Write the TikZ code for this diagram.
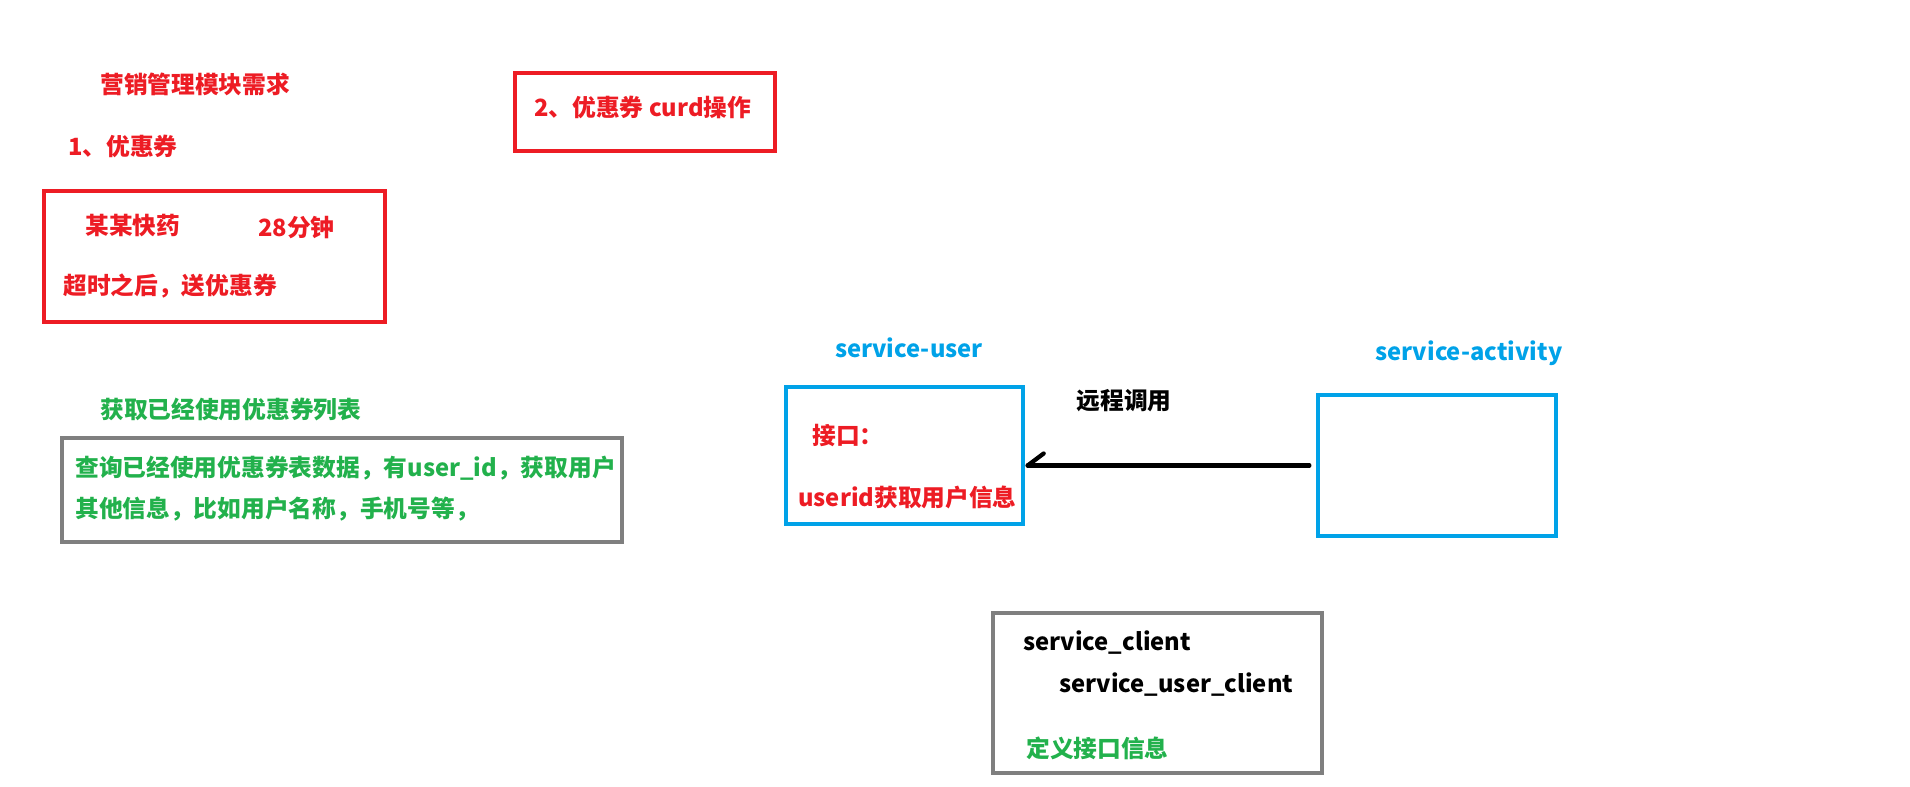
\documentclass[tikz,border=0pt]{standalone}
\usepackage{fontspec}
\setmainfont{Noto Sans CJK SC}
\definecolor{pred}{HTML}{ED1C24}
\definecolor{pgreen}{HTML}{22B14C}
\definecolor{pblue}{HTML}{00A2E8}
\definecolor{pgray}{HTML}{7F7F7F}
\tikzset{
  txt/.style={inner sep=0pt, font=\fontsize{17.8}{20}\selectfont\bfseries},
  ltxt/.style={txt, anchor=west},
  box/.style={line width=3pt, inner sep=0pt},
  redbox/.style={box, draw=pred},
  graybox/.style={box, draw=pgray},
  bluebox/.style={box, draw=pblue},
  callline/.style={line width=3.2pt, line cap=round}
}
\begin{document}
\begin{tikzpicture}[x=0.75pt, y=-0.75pt]
\useasboundingbox (0,0) rectangle (1910,787);
% red section
\node[ltxt, text=pred] (title) at (100,84) {营销管理模块需求};
\node[ltxt, text=pred] (one) at (68,146) {1、优惠券};
\node[redbox, minimum width=341*0.75pt, minimum height=131*0.75pt] (rb1) at (214.5,256.5) {};
\node[ltxt, text=pred] (kuai) at (85,226) {某某快药};
\node[ltxt, text=pred] (min) at (258,228) {28分钟};
\node[ltxt, text=pred] (over) at (63,286) {超时之后，送优惠券};
\node[redbox, minimum width=260*0.75pt, minimum height=78*0.75pt] (rb2) at (645,112) {};
\node[ltxt, text=pred] (two) at (534,107) {2、优惠券 curd操作};
% green section
\node[ltxt, text=pgreen] (list) at (100,410) {获取已经使用优惠券列表};
\node[graybox, minimum width=560*0.75pt, minimum height=104*0.75pt] (gb1) at (342,490) {};
\node[ltxt, text=pgreen] (l1) at (75,468) {查询已经使用优惠券表数据，有user\_id，获取用户};
\node[ltxt, text=pgreen] (l2) at (75,509) {其他信息，比如用户名称，手机号等，};
% services
\node[txt, text=pblue] (su) at (909,348) {service-user};
\node[bluebox, minimum width=237*0.75pt, minimum height=137*0.75pt] (user) at (904.5,455.5) {};
\node[ltxt, text=pred] (jk) at (812,436) {接口：};
\node[ltxt, text=pred] (uid) at (798,497) {userid获取用户信息};
\node[txt] (rpc) at (1124,401) {远程调用};
\node[txt, text=pblue] (sa) at (1469,353) {service-activity};
\node[bluebox, minimum width=238*0.75pt, minimum height=141*0.75pt] (act) at (1437,465.5) {};
\coordinate (tip) at ([xshift=2pt]user.east |- act.west);
\draw[callline] ([xshift=-5pt]act.west) -- (tip);
\draw[callline] (tip) -- ++(16,-12);
% client
\node[graybox, minimum width=329*0.75pt, minimum height=160*0.75pt] (gb2) at (1157.5,693) {};
\node[ltxt] (sc) at (1023,643) {service\_client};
\node[ltxt] (suc) at (1059,685) {service\_user\_client};
\node[ltxt, text=pgreen] (def) at (1026,748) {定义接口信息};
\end{tikzpicture}
\end{document}
